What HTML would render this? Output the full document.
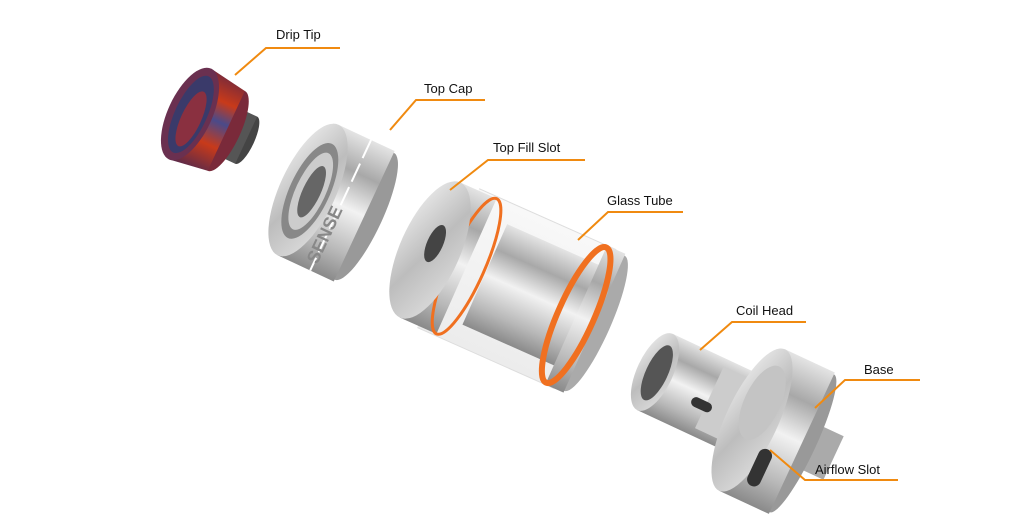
<!DOCTYPE html>
<html><head><meta charset="utf-8"><style>
html,body{margin:0;padding:0;background:#fff;}
svg{display:block}
text{font-family:"Liberation Sans",Arial,sans-serif;font-size:13px;fill:#111;}
</style></head><body>
<svg width="1024" height="522" viewBox="0 0 1024 522" xmlns="http://www.w3.org/2000/svg">
<defs>
<linearGradient id="silver" x1="0" y1="0" x2="0" y2="1">
<stop offset="0" stop-color="#e4e4e4"/><stop offset="0.25" stop-color="#a8a8a8"/><stop offset="0.5" stop-color="#f2f2f2"/><stop offset="0.8" stop-color="#b8b8b8"/><stop offset="1" stop-color="#8a8a8a"/></linearGradient>
<linearGradient id="face" x1="0" y1="0" x2="1" y2="1">
<stop offset="0" stop-color="#f0f0f0"/><stop offset="0.5" stop-color="#bdbdbd"/><stop offset="1" stop-color="#e0e0e0"/></linearGradient>
<linearGradient id="resin" x1="0" y1="0" x2="0" y2="1">
<stop offset="0" stop-color="#7a2a3a"/><stop offset="0.25" stop-color="#c83a1a"/><stop offset="0.45" stop-color="#4a4a8a"/><stop offset="0.7" stop-color="#c83a1a"/><stop offset="1" stop-color="#5a2a4a"/></linearGradient>
<linearGradient id="glass" x1="0" y1="0" x2="0" y2="1">
<stop offset="0" stop-color="#f8f8f8"/><stop offset="1" stop-color="#ececec"/></linearGradient>
</defs>

<!-- Drip tip -->
<g transform="translate(190,114) rotate(25)">
<ellipse cx="62" cy="0" rx="8" ry="26" fill="#444"/>
<rect x="30" y="-26" width="32" height="52" fill="#555"/>
<ellipse cx="40" cy="0" rx="14" ry="44" fill="#7a2a3a"/>
<path d="M0,-50 L40,-44 L40,44 L0,50 Z" fill="url(#resin)"/>
<ellipse cx="0" cy="0" rx="22" ry="50" fill="#6a3050"/>
<ellipse cx="1" cy="0" rx="16" ry="42" fill="#3a3a6a"/>
<ellipse cx="3" cy="4" rx="10" ry="30" fill="#8a3040"/>
</g>

<!-- Top cap -->
<g transform="translate(308,190) rotate(25)">
<ellipse cx="62" cy="0" rx="18" ry="70" fill="#999"/>
<rect x="0" y="-72" width="62" height="144" fill="url(#silver)"/>
<line x1="36" y1="-72" x2="36" y2="72" stroke="#fff" stroke-width="2" stroke-dasharray="20 6"/>
<ellipse cx="0" cy="0" rx="28" ry="72" fill="url(#face)"/>
<ellipse cx="2" cy="0" rx="20" ry="52" fill="#888"/>
<ellipse cx="3" cy="0" rx="15" ry="42" fill="#ccc"/>
<ellipse cx="4" cy="0" rx="9" ry="28" fill="#666"/>
<text x="40" y="64" transform="rotate(-90 40 64)" style="font-size:18px;font-weight:bold;fill:#888">SENSE</text>
</g>

<!-- Tank -->
<g transform="translate(430,250) rotate(24)">
<ellipse cx="180" cy="0" rx="16" ry="74" fill="#aaa"/>
<rect x="20" y="-76" width="150" height="152" fill="url(#glass)"/>
<line x1="20" y1="-76" x2="170" y2="-76" stroke="#ddd"/>
<line x1="20" y1="76" x2="170" y2="76" stroke="#ddd"/>
<rect x="60" y="-55" width="110" height="110" fill="url(#silver)"/>
<rect x="160" y="-76" width="20" height="152" fill="url(#silver)"/>
<ellipse cx="160" cy="0" rx="18" ry="74" fill="none" stroke="#f07020" stroke-width="6"/>
<rect x="0" y="-74" width="40" height="148" fill="url(#silver)"/>
<ellipse cx="40" cy="0" rx="18" ry="74" fill="none" stroke="#f07020" stroke-width="3"/>
<ellipse cx="0" cy="0" rx="30" ry="74" fill="url(#face)"/>
<ellipse cx="2" cy="-8" rx="8" ry="20" fill="#444"/>
</g>

<!-- Coil head -->
<g transform="translate(655,372) rotate(25)">
<rect x="0" y="-42" width="90" height="84" fill="url(#silver)"/>
<rect x="60" y="-34" width="30" height="68" fill="#ccc"/>
<ellipse cx="0" cy="0" rx="18" ry="42" fill="url(#face)"/>
<ellipse cx="2" cy="0" rx="11" ry="30" fill="#555"/>
<rect x="45" y="5" width="22" height="10" rx="5" fill="#333"/>
</g>

<!-- Base -->
<g transform="translate(752,420) rotate(25)">
<rect x="50" y="-24" width="40" height="48" fill="#aaa"/>
<ellipse cx="55" cy="0" rx="14" ry="76" fill="#999"/>
<rect x="0" y="-78" width="55" height="156" fill="url(#silver)"/>
<ellipse cx="0" cy="0" rx="26" ry="78" fill="url(#face)"/>
<ellipse cx="2" cy="-20" rx="18" ry="40" fill="#c4c4c4"/>
<rect x="20" y="20" width="14" height="40" rx="7" fill="#333"/>
</g>

<!-- leaders -->
<g stroke="#f08a10" stroke-width="2" fill="none">
<polyline points="235,75 266,48 340,48"/>
<polyline points="390,130 416,100 485,100"/>
<polyline points="450,190 488,160 585,160"/>
<polyline points="578,240 608,212 683,212"/>
<polyline points="700,350 732,322 806,322"/>
<polyline points="815,408 845,380 920,380"/>
<polyline points="770,450 805,480 898,480"/>
</g>
<text x="276" y="39">Drip Tip</text>
<text x="424" y="93">Top Cap</text>
<text x="493" y="152">Top Fill Slot</text>
<text x="607" y="205">Glass Tube</text>
<text x="736" y="315">Coil Head</text>
<text x="864" y="374">Base</text>
<text x="815" y="474">Airflow Slot</text>
</svg>
</body></html>
